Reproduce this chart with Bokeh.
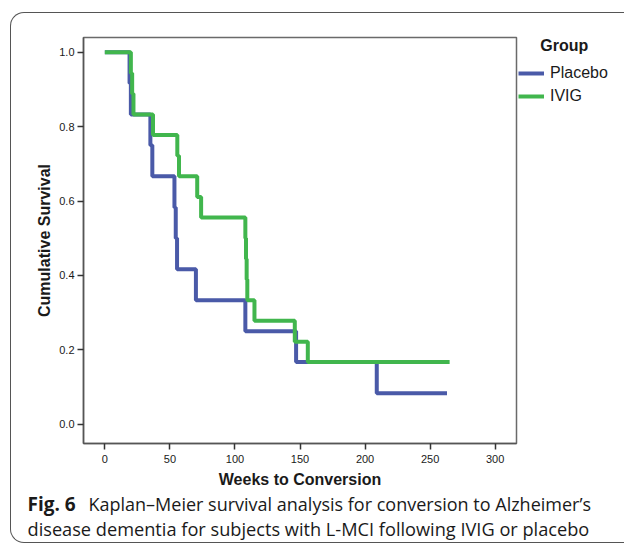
from bokeh.plotting import figure
from bokeh.layouts import column, row
from bokeh.core.properties import value
from bokeh.models import (Range1d, Legend, LegendItem,
                          FixedTicker, NumeralTickFormatter, InlineStyleSheet)
from bokeh.embed import file_html
from bokeh.resources import INLINE

# ---- data ----
placebo_weeks = [0, 19, 20, 35, 36.5, 53.5, 54.5, 55.5, 70, 108, 147, 209, 263]
placebo_surv = [1.0, 0.917, 0.833, 0.75, 0.667, 0.583, 0.5, 0.417, 0.333, 0.25, 0.167, 0.083, 0.083]

ivig_weeks = [0, 20, 21, 22, 37, 55.7, 57, 71, 74, 108, 108.5, 109, 109.5, 115, 146, 156, 265]
ivig_surv = [1.0, 0.944, 0.889, 0.833, 0.778, 0.722, 0.667, 0.611, 0.556, 0.5, 0.444,
             0.389, 0.333, 0.278, 0.222, 0.167, 0.167]

x_ticks = [0, 50, 100, 150, 200, 250, 300]
y_ticks = [0.0, 0.2, 0.4, 0.6, 0.8, 1.0]

group_names = ["Placebo", "IVIG"]
x_title = "Weeks to Conversion"
y_title = "Cumulative Survival"
legend_title = "Group"
caption_bold = "Fig. 6"
caption_line1 = "Kaplan\u2013Meier survival analysis for conversion to Alzheimer\u2019s"
caption_line2 = "disease dementia for subjects with L-MCI following IVIG or placebo"

BLUE = "#4a5aa8"
GREEN = "#41b64d"
AX = "#555555"
TXT = "#1a1a1a"
AXFONT = "Liberation Sans"

box_css = InlineStyleSheet(css="""
:host { position: relative; }
:host::after {
  content: ""; position: absolute; left: 10px; top: 12px; width: 614px; height: 531px;
  border: 1.5px solid #555; border-right: none; border-radius: 14px 0 0 14px;
  pointer-events: none; box-sizing: border-box;
}
""")

MAIN_H = 491

# ---- main chart ----
p = figure(width=518, height=MAIN_H, output_backend="svg", toolbar_location=None,
           x_range=Range1d(-16.4, 316.4), y_range=Range1d(-0.052, 1.04),
           min_border_left=83, min_border_right=2, min_border_top=35,
           min_border_bottom=48)
p.background_fill_color = "white"
p.border_fill_color = "white"
p.outline_line_color = "#6a6a6a"
p.outline_line_width = 1.5
p.xgrid.visible = False
p.ygrid.visible = False

p.step(placebo_weeks, placebo_surv, mode="after", line_color=BLUE, line_width=4)
p.step(ivig_weeks, ivig_surv, mode="after", line_color=GREEN, line_width=4)

for ax in (p.xaxis[0], p.yaxis[0]):
    ax.axis_line_color = AX
    ax.axis_line_width = 1.5
    ax.major_tick_line_color = "#333333"
    ax.major_tick_line_width = 1.5
    ax.major_tick_out = 6
    ax.major_tick_in = 0
    ax.minor_tick_line_color = None
    ax.major_label_text_font = AXFONT
    ax.major_label_text_font_size = "11px"
    ax.major_label_text_color = TXT
    ax.axis_label_text_font = AXFONT
    ax.axis_label_text_font_style = "bold"
    ax.axis_label_text_font_size = "16px"
    ax.axis_label_text_color = TXT

p.xaxis.ticker = FixedTicker(ticks=x_ticks)
p.yaxis.ticker = FixedTicker(ticks=y_ticks)
p.yaxis.formatter = NumeralTickFormatter(format="0.0")
p.xaxis.axis_label = x_title
p.yaxis.axis_label = y_title
p.xaxis.major_label_standoff = 5
p.yaxis.major_label_standoff = 3
p.xaxis.axis_label_standoff = 5
p.yaxis.axis_label_standoff = 3

# ---- legend strip to the right of the chart ----
# the key renderers carry the same series, but this strip's ranges keep them out of view;
# they only supply the legend swatches
lg = figure(width=106, height=MAIN_H, output_backend="svg", toolbar_location=None,
            x_range=Range1d(-1000, -999), y_range=Range1d(-1000, -999),
            x_axis_location=None, y_axis_location=None,
            min_border_left=0, min_border_right=0, min_border_bottom=0, min_border_top=37)
lg.xgrid.visible = False
lg.ygrid.visible = False
lg.outline_line_color = None
lg.background_fill_color = "white"
lg.border_fill_color = "white"
key_p = lg.step(placebo_weeks, placebo_surv, mode="after", line_color=BLUE, line_width=4)
key_i = lg.step(ivig_weeks, ivig_surv, mode="after", line_color=GREEN, line_width=4)

legend = Legend(items=[LegendItem(label=group_names[0], renderers=[key_p]),
                       LegendItem(label=group_names[1], renderers=[key_i])],
                location="top_left")
legend.title = "\u00a0\u00a0\u00a0\u00a0\u00a0" + legend_title
legend.title_text_font = AXFONT
legend.title_text_font_style = "bold"
legend.title_text_font_size = "16px"
legend.title_text_color = TXT
legend.title_standoff = 8
legend.background_fill_alpha = 0
legend.border_line_color = None
legend.padding = 0
legend.margin = 0
legend.spacing = 3
legend.glyph_width = 26
legend.glyph_height = 20
legend.label_height = 20
legend.label_standoff = 6
legend.label_text_font = AXFONT
legend.label_text_font_size = "16px"
legend.label_text_color = TXT
lg.add_layout(legend)

# ---- caption strip ----
CAP_H = 554 - MAIN_H
cap = figure(width=624, height=CAP_H, output_backend="svg", toolbar_location=None,
             x_range=Range1d(0, 624), y_range=Range1d(CAP_H, 0),
             x_axis_location=None, y_axis_location=None, min_border=0)
cap.xgrid.visible = False
cap.ygrid.visible = False
cap.outline_line_color = None
cap.background_fill_color = "white"
cap.border_fill_color = "white"

cap_kw = dict(text_font=value("Open Sans"), text_color=TXT, text_baseline="middle")
cap.text(x=[27], y=[503 - MAIN_H], text=[caption_bold], text_font_style="bold",
         text_font_size="19px", **cap_kw)
cap.text(x=[88], y=[503 - MAIN_H], text=[caption_line1], text_font_size="18px", **cap_kw)
cap.text(x=[27], y=[528 - MAIN_H], text=[caption_line2], text_font_size="18.2px", **cap_kw)

layout = column(row(p, lg, spacing=0), cap, spacing=0, stylesheets=[box_css])

open("out.html", "w").write(file_html(layout, INLINE))
